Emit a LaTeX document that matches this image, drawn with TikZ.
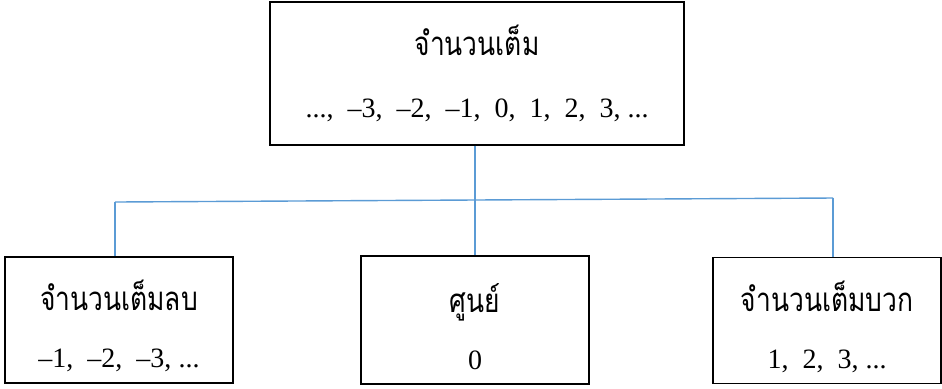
\documentclass[tikz,border=0pt]{standalone}
\usepackage{fontspec}
\setmainfont{Liberation Serif}
\newfontfamily\thaifont[Script=Thai,FakeStretch=0.8]{Loma}
\usetikzlibrary{positioning}
\definecolor{linkblue}{HTML}{5B9BD5}
\newcommand\gap{\hspace{0.5em}}
\newcommand\numfont{\fontsize{14}{16.8}\selectfont}
\newcommand\thaitext{\thaifont\fontsize{16.5}{18}\selectfont}

\begin{document}
\begin{tikzpicture}[x=0.5pt,y=-0.5pt,
  box/.style={draw,line width=0.65pt,inner sep=0pt,align=center,font=\numfont,
    minimum width=114pt,minimum height=63pt},
  link/.style={draw=linkblue,line width=0.7pt}]
  \useasboundingbox (0,0) rectangle (942,388);
  % top box
  \node[box,minimum width=207pt,minimum height=71.5pt] (whole) at (477,73.5)
    {{\thaitext จำนวนเต็ม}\\[14pt]
     ...,\gap –3,\gap –2,\gap –1,\gap 0,\gap 1,\gap 2,\gap 3, ...};
  % lower boxes
  \node[box] (neg) at (119,320)
    {\rule{0pt}{21.5pt}{\thaitext จำนวนเต็มลบ}\\[11.7pt]
     –1,\gap –2,\gap –3, ...};
  \node[box,minimum height=64pt] (zero) at (475,320)
    {\rule{0pt}{21.5pt}{\thaitext ศูนย์}\\[11.7pt] 0};
  \node[box] (pos) at (827,320.5)
    {\rule{0pt}{21.5pt}{\thaitext จำนวนเต็มบวก}\\[11.7pt]
     1,\gap 2,\gap 3, ...};
  % connectors
  \coordinate (busL) at (115,202);
  \coordinate (busR) at (833,198);
  \draw[link] (whole.south -| zero.north) -- (zero.north);
  \draw[link] (busL) -- (busR);
  \draw[link] (busL) -- (busL |- neg.north);
  \draw[link] (busR) -- (busR |- pos.north);
\end{tikzpicture}
\end{document}
